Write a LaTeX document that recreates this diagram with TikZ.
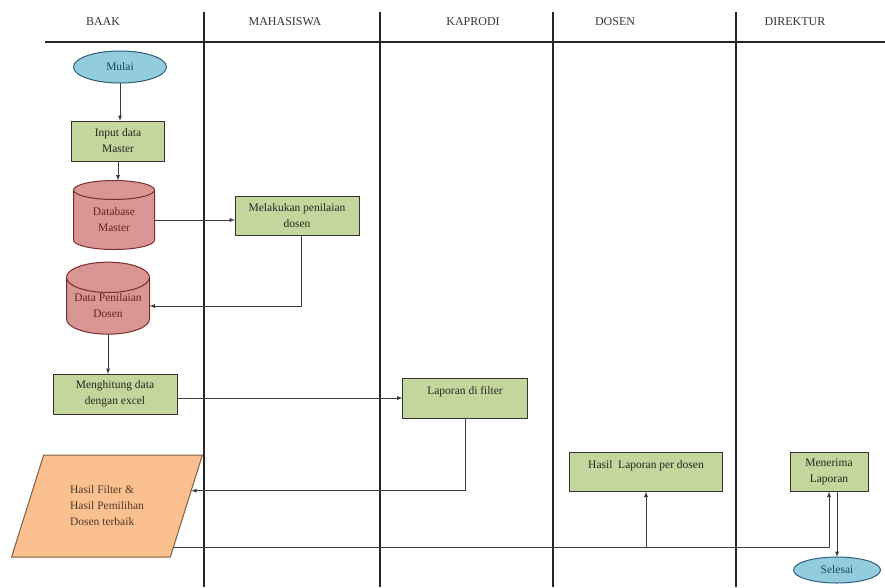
\documentclass[tikz,border=0pt]{standalone}
\usepackage{fontspec}
\setmainfont{Liberation Serif}
\definecolor{proc}{HTML}{C3D69B}
\definecolor{db}{HTML}{D99694}
\definecolor{dbline}{HTML}{7A2E2C}
\definecolor{term}{HTML}{93CDDD}
\definecolor{termline}{HTML}{2C5F7C}
\definecolor{io}{HTML}{FAC090}
\definecolor{ioline}{HTML}{7F5F3F}
\definecolor{darkgrey}{HTML}{3C3C3C}
\usetikzlibrary{arrows}
\usetikzlibrary{calc}
\usetikzlibrary{shapes.geometric}
\tikzstyle{base}=[inner sep=0pt, outer sep=0pt, x=1pt, y=-1pt, >=latex]
\tikzstyle{lane}=[black!85, line width=1.3pt]
\tikzstyle{judul}=[black!80, font=\fontsize{12}{14}\selectfont]
\tikzstyle{proses}=[draw=black!80, line width=1pt, fill=proc, align=center, text=black!85, font=\fontsize{11.5}{16}\selectfont]
\tikzstyle{basisdata}=[cylinder, shape border rotate=90, aspect=0.45, draw=dbline, line width=1pt, fill=db, align=center, text=dbline!80!black, font=\fontsize{11.5}{16}\selectfont]
\tikzstyle{terminal}=[ellipse, draw=termline, line width=1pt, fill=term, text=termline!70!black, font=\fontsize{11.5}{14}\selectfont]
\tikzstyle{keluaran}=[trapezium, trapezium left angle=65, trapezium right angle=115, trapezium stretches=true, draw=ioline, line width=1pt, fill=io, align=left, text=ioline!60!black, font=\fontsize{11.5}{16}\selectfont]
\tikzstyle{alur}=[darkgrey, line width=0.9pt, ->]

\begin{document}
\begin{tikzpicture}[base]
    \useasboundingbox (0,0) rectangle (885,587);
    % lajur
    \draw [lane] (45,42) -- (885,42);
    \foreach \lx in {204,380,553,736}
        \draw [lane] (\lx,12) -- (\lx,587);
    \node [judul] (hbaak) at (103,22) {BAAK};
    \node [judul] (hmhs) at (285,22) {MAHASISWA};
    \node [judul] (hkaprodi) at (473,22) {KAPRODI};
    \node [judul] (hdosen) at (615,22) {DOSEN};
    \node [judul] (hdirektur) at (795,22) {DIREKTUR};

    % simbol
    \node [terminal, minimum width=93pt, minimum height=32pt] (mulai) at (120,67) {Mulai};
    \node [proses, minimum width=93pt, minimum height=40pt] (input) at (118,141) {Input data\\Master};
    \node [basisdata, minimum width=81pt, minimum height=69pt] (dbmaster) at (114,220) {Database\\Master};
    \node [proses, minimum width=124pt, minimum height=39pt] (nilai) at (297,216) {Melakukan penilaian\\dosen};
    \node [basisdata, minimum width=83pt, minimum height=72pt] (dbnilai) at (108,306) {Data Penilaian\\Dosen};
    \node [proses, minimum width=124pt, minimum height=40pt] (hitung) at (115,394) {Menghitung data\\dengan excel};
    \node [proses, minimum width=125pt, minimum height=40pt] (laporan) at (465,398) {Laporan di filter\\\mbox{}};
    \node [keluaran, minimum width=191pt, minimum height=102pt] (hasil) at (107,506) {Hasil Filter \&\\Hasil Pemilihan\\Dosen terbaik\hspace{12pt}};
    \node [proses, minimum width=153pt, minimum height=39pt] (perdosen) at (646,472) {Hasil\ \ Laporan per dosen\\\mbox{}};
    \node [proses, minimum width=78pt, minimum height=39pt] (menerima) at (829,472) {Menerima\\Laporan};
    \node [terminal, minimum width=87pt, minimum height=26pt] (selesai) at (837,570) {Selesai};
    \coordinate (masuk) at ($(hasil.bottom right corner)!0.65!(hasil.top right corner)$);
    \coordinate (kaki) at ($(hasil.bottom right corner)!0.09!(hasil.top right corner)$);

    % alur
    \draw [alur] (mulai.south) -- (mulai.south |- input.north);
    \draw [alur] (input.south) -- (input.south |- dbmaster.north);
    \draw [alur] (dbmaster.east) -- (dbmaster.east -| nilai.west);
    \draw [alur] ([xshift=4pt]nilai.south) |- (dbnilai.east);
    \draw [alur] (dbnilai.south) -- (dbnilai.south |- hitung.north);
    \draw [alur] (hitung.east |- laporan.west) -- (laporan.west);
    \draw [alur] (laporan.south) |- (masuk);
    \draw [alur] (kaki) -| (menerima.south);
    \draw [alur] (kaki -| perdosen.south) -- (perdosen.south);
    \draw [alur] (menerima.south -| selesai.north) -- (selesai.north);
\end{tikzpicture}
\end{document}
